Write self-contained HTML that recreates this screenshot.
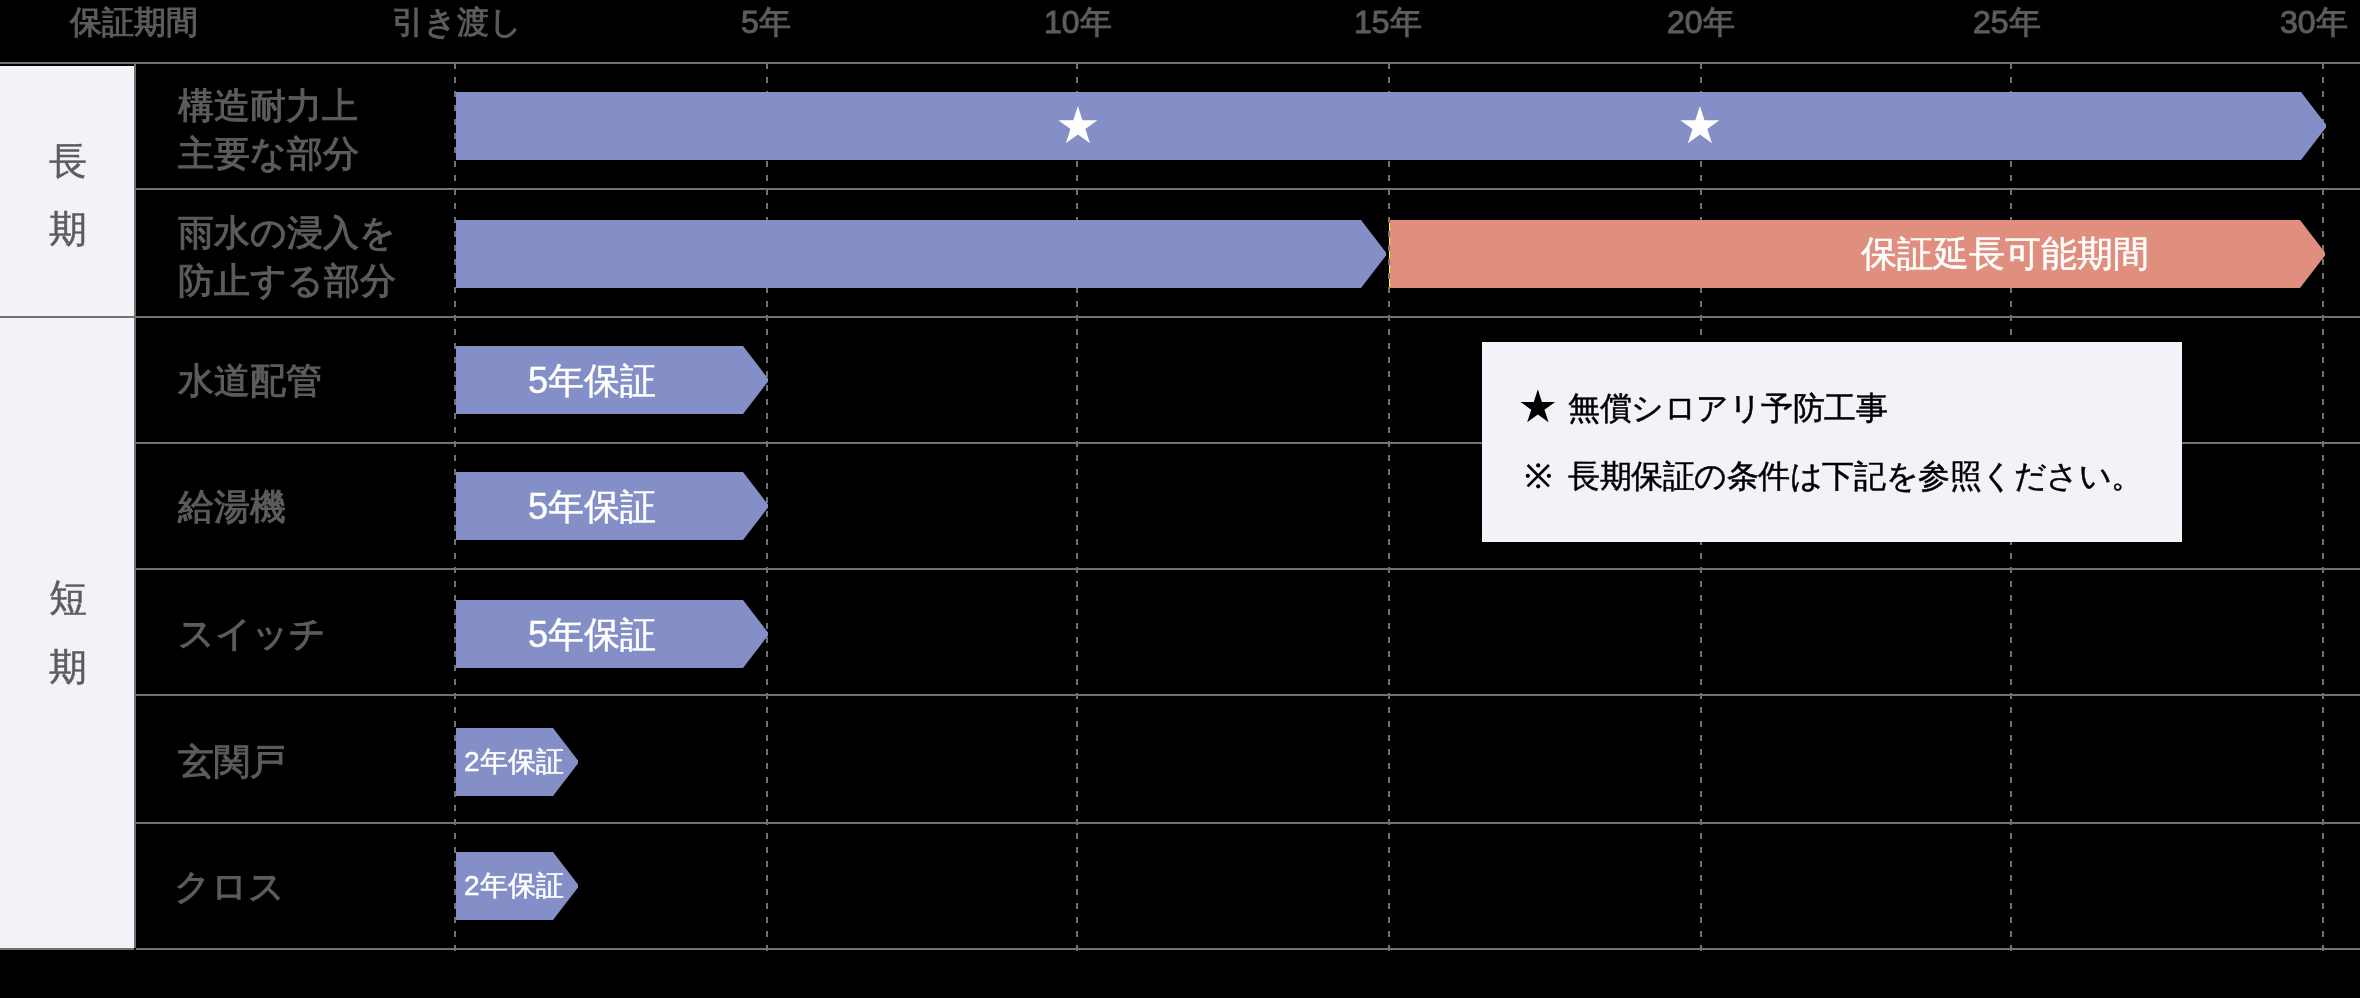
<!DOCTYPE html>
<html lang="ja">
<head>
<meta charset="utf-8">
<style>
html,body{margin:0;padding:0;background:#000;}
body{width:2360px;height:998px;overflow:hidden;position:relative;font-family:"Liberation Sans",sans-serif;}
svg.g{position:absolute;left:0;top:0;}
.t{position:absolute;white-space:nowrap;line-height:1;color:#5c5c5c;will-change:transform;}
.dk{-webkit-text-stroke:1px currentColor;}
.md{-webkit-text-stroke:0.5px currentColor;}
.hd{font-size:32px;}
.lb{font-size:36px;line-height:48px;}
.big{font-size:38px;}
.w{color:#fff;}
.leg{color:#000;font-size:32px;letter-spacing:-0.45px;}
</style>
</head>
<body>
<svg class="g" width="2360" height="998" viewBox="0 0 2360 998">
  <!-- left panel -->
  <rect x="0" y="66" width="134" height="882" fill="#f2f3f8"/>
  <!-- horizontal lines -->
  <g fill="#727272">
    <rect x="0" y="62" width="2360" height="2"/>
    <rect x="136" y="188" width="2224" height="2"/>
    <rect x="136" y="316" width="2224" height="2"/>
    <rect x="136" y="442" width="2224" height="2"/>
    <rect x="136" y="568" width="2224" height="2"/>
    <rect x="136" y="694" width="2224" height="2"/>
    <rect x="136" y="822" width="2224" height="2"/>
    <rect x="136" y="948" width="2224" height="2"/>
  </g>
  <rect x="0" y="316" width="134" height="2" fill="#727272"/>
  <rect x="0" y="948" width="134" height="2" fill="#727272"/>
  <!-- vertical divider -->
  <rect x="134" y="64" width="2" height="884" fill="#727272"/>
  <rect x="1389" y="222" width="1" height="65" fill="#ffff00"/>
  <!-- dashed column lines -->
  <g stroke="#727272" stroke-width="2" stroke-dasharray="6 8">
    <line x1="455" y1="63" x2="455" y2="951"/>
    <line x1="767" y1="63" x2="767" y2="951"/>
    <line x1="1077" y1="63" x2="1077" y2="951"/>
    <line x1="1389" y1="63" x2="1389" y2="951"/>
    <line x1="1701" y1="63" x2="1701" y2="951"/>
    <line x1="2011" y1="63" x2="2011" y2="951"/>
    <line x1="2323" y1="63" x2="2323" y2="951"/>
  </g>
  <!-- bars -->
  <g fill="#838fc6">
    <polygon points="456,92 2301,92 2326,124.5 2326,127.5 2301,160 456,160"/>
    <polygon points="456,220 1361,220 1386,252.5 1386,255.5 1361,288 456,288"/>
    <polygon points="456,346 743,346 768,378.5 768,381.5 743,414 456,414"/>
    <polygon points="456,472 743,472 768,504.5 768,507.5 743,540 456,540"/>
    <polygon points="456,600 743,600 768,632.5 768,635.5 743,668 456,668"/>
    <polygon points="456,728 553,728 578,760.5 578,763.5 553,796 456,796"/>
    <polygon points="456,852 553,852 578,884.5 578,887.5 553,920 456,920"/>
  </g>
  <polygon fill="#e08f7e" points="1390,220 2300,220 2325,252.5 2325,255.5 2300,288 1390,288"/>
  <!-- stars -->
  <g fill="#fff">
    <polygon points="1077.90,106.10 1082.50,120.26 1097.40,120.27 1085.35,129.02 1089.95,143.18 1077.90,134.43 1065.85,143.18 1070.45,129.02 1058.40,120.27 1073.30,120.26"/>
    <polygon points="1699.90,106.10 1704.50,120.26 1719.40,120.27 1707.35,129.02 1711.95,143.18 1699.90,134.43 1687.85,143.18 1692.45,129.02 1680.40,120.27 1695.30,120.26"/>
  </g>
  <!-- legend box -->
  <rect x="1482" y="342" width="700" height="200" fill="#f2f3f8"/>
  <polygon fill="#000" points="1537.85,389.30 1541.94,401.88 1555.16,401.88 1544.46,409.65 1548.55,422.22 1537.85,414.45 1527.15,422.22 1531.24,409.65 1520.54,401.88 1533.76,401.88"/>
  <g stroke="#000" stroke-width="2.6"><line x1="1527.6" y1="465" x2="1548.9" y2="486.3"/><line x1="1548.9" y1="465" x2="1527.6" y2="486.3"/></g>
  <g fill="#000"><circle cx="1538.2" cy="465.4" r="2.1"/><circle cx="1538.2" cy="486.3" r="2.1"/><circle cx="1527.8" cy="475.8" r="2.1"/><circle cx="1548.9" cy="475.8" r="2.1"/></g>
</svg>

<!-- header -->
<div class="t hd dk" style="left:70px;top:6px">保証期間</div>
<div class="t hd dk" style="left:392px;top:6px">引き渡し</div>
<div class="t hd dk" style="left:741px;top:6px">5年</div>
<div class="t hd dk" style="left:1044px;top:6px">10年</div>
<div class="t hd dk" style="left:1354px;top:6px">15年</div>
<div class="t hd dk" style="left:1667px;top:6px">20年</div>
<div class="t hd dk" style="left:1973px;top:6px">25年</div>
<div class="t hd dk" style="left:2280px;top:6px">30年</div>

<!-- left panel -->
<div class="t big md" style="left:49px;top:142px">長</div>
<div class="t big md" style="left:49px;top:210px">期</div>
<div class="t big md" style="left:49px;top:579px">短</div>
<div class="t big md" style="left:49px;top:648px">期</div>

<!-- row labels -->
<div class="t lb dk" style="left:178px;top:82px">構造耐力上<br>主要な部分</div>
<div class="t lb dk" style="left:178px;top:209px">雨水の浸入を<br>防止する部分</div>
<div class="t lb dk" style="left:178px;top:357px">水道配管</div>
<div class="t lb dk" style="left:178px;top:483px">給湯機</div>
<div class="t lb dk" style="left:178px;top:610px">スイッチ</div>
<div class="t lb dk" style="left:178px;top:738px">玄関戸</div>
<div class="t lb dk" style="left:174px;top:863px">クロス</div>

<!-- bar texts -->
<div class="t lb w md" style="left:1861px;top:230px">保証延長可能期間</div>
<div class="t lb w md" style="left:528px;top:357px">5年保証</div>
<div class="t lb w md" style="left:528px;top:483px">5年保証</div>
<div class="t lb w md" style="left:528px;top:611px">5年保証</div>
<div class="t w md" style="font-size:28px;left:464px;top:748px">2年保証</div>
<div class="t w md" style="font-size:28px;left:464px;top:872px">2年保証</div>

<!-- legend -->
<div class="t leg md" style="left:1568px;top:392px">無償シロアリ予防工事</div>
<div class="t leg md" style="left:1568px;top:460px">長期保証の条件は下記を参照ください。</div>
</body>
</html>
